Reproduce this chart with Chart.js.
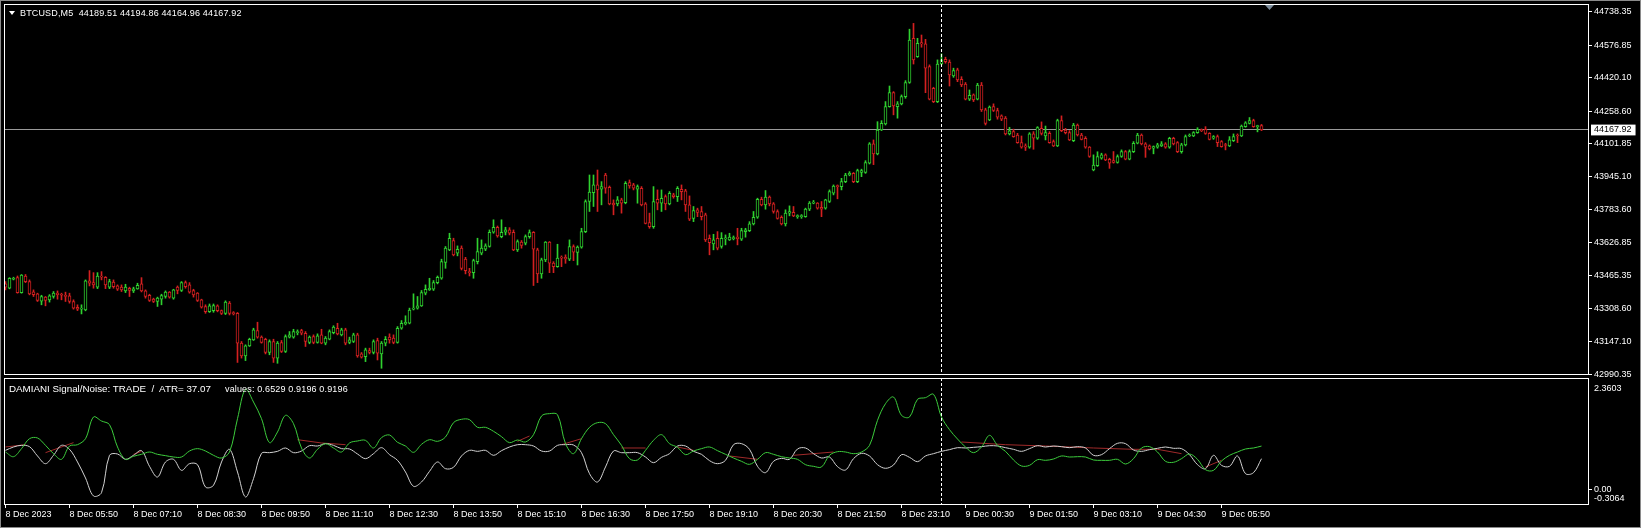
<!DOCTYPE html>
<html>
<head>
<meta charset="utf-8">
<script src="https://cdn.jsdelivr.net/npm/chart.js@4.4.0/dist/chart.umd.min.js"></script>
<style>
html, body { margin: 0; padding: 0; background: #000; }
body { width: 1641px; height: 528px; position: relative; overflow: hidden; font-family: "Liberation Sans", Arial, sans-serif; }
canvas { position: absolute; left: 0; }
#main { top: 0; }
#ind { top: 376px; }
.hdr { position: absolute; color: #fff; font-size: 9px; line-height: 10px; white-space: pre; }
#tri { position: absolute; left: 9px; top: 11px; width: 0; height: 0; border-left: 3px solid transparent; border-right: 3px solid transparent; border-top: 4px solid #fff; }
#win { position: absolute; left: 0; top: 0; width: 1639px; height: 526px; border: 1px solid #8a8a8a; pointer-events: none; }
</style>
</head>
<body>
<canvas id="main" width="1641" height="382"></canvas>
<canvas id="ind" width="1641" height="152"></canvas>
<div id="tri"></div>
<div class="hdr" style="left:20px; top:8px; letter-spacing:0.15px;">BTCUSD,M5  44189.51 44194.86 44164.96 44167.92</div>
<div class="hdr" style="left:9px; top:384px; font-size:9.8px;">DAMIANI Signal/Noise: TRADE  /  ATR= 37.07</div>
<div class="hdr" style="left:225px; top:384px; letter-spacing:0.15px;">values: 0.6529 0.9196 0.9196</div>
<div id="win"></div>
<script>
// BTCUSD M5, 8 Dec 2023 04:30 -> 9 Dec 2023 06:40, one entry per bar
const open = [
  43426,43405,43448,43456,43384,43464,43437,43387,43378,43342,
  43362,43349,43365,43381,43374,43371,43368,43341,43313,43304,
  43300,43440,43432,43410,43464,43458,43410,43434,43416,43410,
  43392,43405,43392,43402,43426,43392,43371,43352,43341,43352,
  43365,43386,43357,43410,43394,43432,43421,43394,43381,43349,
  43317,43292,43297,43320,43297,43284,43333,43288,43284,43140,
  43079,43127,43156,43201,43169,43159,43095,43148,43068,43143,
  43100,43169,43169,43191,43201,43188,43143,43172,43143,43180,
  43140,43159,43191,43212,43180,43204,43143,43148,43180,43088,
  43075,43104,43095,43153,43088,43140,43169,43164,43143,43212,
  43233,43236,43304,43309,43320,43381,43397,43400,43432,43453,
  43529,43590,43635,43574,43598,43545,43485,43480,43533,43574,
  43593,43606,43675,43699,43654,43675,43686,43675,43590,43627,
  43622,43654,43675,43590,43474,43542,43627,43526,43509,43554,
  43554,43545,43606,43577,43603,43678,43823,43866,43903,43882,
  43951,43892,43815,43812,43831,43818,43914,43903,43882,43887,
  43812,43722,43702,43834,43815,43847,43812,43855,43847,43882,
  43875,43807,43742,43783,43775,43759,43646,43619,43646,43606,
  43643,43638,43644,43651,43641,43678,43683,43715,43747,43834,
  43807,43844,43812,43775,43747,43715,43767,43771,43750,43750,
  43750,43786,43815,43815,43795,43791,43823,43863,43898,43895,
  43919,43951,43959,43919,43963,43963,44008,44101,44053,44168,
  44197,44281,44348,44281,44294,44329,44397,44610,44522,44589,
  44583,44474,44369,44305,44486,44509,44495,44429,44458,44412,
  44389,44316,44337,44316,44385,44265,44216,44281,44262,44236,
  44225,44149,44160,44144,44107,44091,44085,44149,44128,44176,
  44139,44152,44112,44091,44213,44168,44155,44117,44192,44144,
  44128,44085,43975,43996,44032,44048,44027,44020,44011,44040,
  44064,44027,44064,44104,44144,44101,44091,44080,44085,44091,
  44101,44085,44128,44107,44064,44096,44139,44139,44155,44168,
  44171,44152,44128,44136,44112,44096,44091,44117,44144,44139,
  44184,44200,44213,44184,44189.51
];
const high = [
  43437,43456,43458,43464,43471,43471,43445,43397,43381,43371,
  43365,43374,43389,43392,43381,43386,43381,43349,43325,43325,
  43445,43490,43480,43480,43485,43461,43448,43445,43421,43421,
  43424,43410,43410,43429,43456,43397,43376,43357,43362,43376,
  43392,43389,43400,43416,43437,43440,43432,43400,43384,43352,
  43325,43329,43329,43325,43300,43344,43341,43292,43288,43148,
  43132,43164,43212,43241,43175,43164,43156,43159,43148,43153,
  43180,43196,43207,43204,43207,43196,43175,43180,43185,43207,
  43172,43204,43224,43236,43212,43212,43169,43188,43188,43095,
  43116,43116,43156,43164,43148,43172,43185,43180,43220,43249,
  43272,43309,43378,43365,43394,43421,43453,43442,43464,43545,
  43606,43670,43646,43609,43609,43554,43501,43545,43646,43638,
  43619,43686,43735,43705,43735,43699,43697,43686,43638,43635,
  43662,43686,43678,43598,43550,43630,43630,43533,43617,43561,
  43566,43638,43614,43609,43694,43831,43951,43951,43975,43919,
  43959,43898,43831,43847,43839,43919,43927,43911,43903,43895,
  43818,43767,43895,43879,43879,43855,43871,43863,43895,43903,
  43882,43850,43799,43791,43799,43767,43662,43665,43678,43673,
  43662,43670,43657,43694,43694,43694,43726,43775,43839,43844,
  43876,43850,43818,43783,43754,43783,43802,43799,43759,43760,
  43791,43823,43828,43818,43823,43834,43879,43903,43903,43935,
  43959,43967,43963,43979,43979,44020,44107,44120,44208,44213,
  44305,44380,44353,44305,44337,44406,44654,44682,44610,44626,
  44605,44482,44374,44506,44535,44519,44506,44466,44466,44425,
  44397,44361,44342,44393,44397,44273,44284,44294,44273,44241,
  44233,44181,44172,44152,44139,44101,44155,44160,44184,44207,
  44187,44160,44120,44220,44236,44176,44165,44200,44197,44152,
  44136,44088,44048,44063,44056,44053,44032,44064,44048,44072,
  44069,44072,44112,44152,44149,44107,44096,44091,44104,44112,
  44107,44133,44133,44112,44104,44144,44149,44160,44179,44173,
  44184,44155,44141,44144,44117,44104,44136,44149,44149,44192,
  44208,44228,44220,44191,44194.86
];
const low = [
  43397,43402,43445,43381,43381,43432,43373,43365,43341,43325,
  43320,43338,43357,43352,43349,43341,43333,43304,43297,43281,
  43296,43416,43405,43403,43445,43403,43403,43405,43394,43389,
  43384,43365,43384,43400,43387,43357,43341,43336,43317,43325,
  43357,43357,43352,43378,43389,43405,43381,43362,43341,43309,
  43284,43288,43289,43291,43278,43278,43276,43276,43047,43068,
  43056,43124,43153,43164,43140,43088,43084,43047,43043,43095,
  43095,43165,43164,43180,43180,43124,43137,43137,43140,43137,
  43132,43156,43185,43180,43175,43132,43137,43143,43072,43068,
  43051,43088,43088,43059,43019,43127,43140,43137,43140,43207,
  43228,43233,43300,43304,43317,43373,43394,43394,43426,43448,
  43501,43586,43561,43561,43493,43474,43464,43453,43522,43566,
  43586,43603,43670,43651,43648,43662,43662,43586,43582,43598,
  43614,43646,43418,43432,43453,43533,43480,43480,43506,43509,
  43525,43538,43538,43517,43598,43673,43775,43799,43775,43807,
  43863,43807,43759,43802,43767,43812,43887,43879,43815,43802,
  43715,43694,43694,43783,43775,43783,43807,43839,43823,43831,
  43775,43731,43726,43750,43734,43630,43566,43590,43590,43598,
  43614,43635,43638,43614,43635,43651,43678,43710,43742,43802,
  43786,43802,43767,43738,43710,43705,43754,43750,43742,43742,
  43747,43779,43812,43786,43750,43786,43818,43855,43836,43879,
  43914,43947,43914,43914,43943,43959,44004,44001,44048,44165,
  44192,44278,44241,44225,44289,44321,44393,44486,44518,44567,
  44348,44313,44300,44300,44482,44490,44380,44422,44401,44377,
  44313,44310,44305,44313,44257,44192,44213,44257,44220,44213,
  44144,44144,44133,44104,44080,44069,44080,44075,44123,44144,
  44120,44104,44088,44088,44160,44149,44117,44112,44139,44120,
  44080,44036,43971,43992,44027,44020,43983,44008,44008,44036,
  44024,44024,44059,44101,44096,44036,44072,44053,44080,44088,
  44080,44080,44096,44059,44056,44091,44136,44136,44152,44160,
  44147,44120,44123,44088,44085,44072,44088,44112,44107,44136,
  44181,44197,44181,44159,44164.96
];
const close = [
  43410,43453,43453,43384,43468,43437,43378,43374,43346,43365,
  43346,43368,43381,43374,43371,43365,43341,43309,43304,43309,
  43440,43429,43421,43464,43458,43421,43437,43413,43400,43397,
  43410,43394,43402,43419,43392,43365,43346,43341,43357,43370,
  43386,43362,43397,43394,43432,43413,43386,43373,43346,43313,
  43292,43320,43321,43297,43284,43338,43284,43281,43140,43079,
  43127,43159,43204,43169,43143,43095,43148,43068,43140,43100,
  43172,43180,43196,43196,43188,43148,43169,43143,43175,43140,
  43164,43196,43217,43185,43204,43140,43156,43180,43079,43072,
  43108,43095,43148,43092,43140,43159,43156,43143,43212,43236,
  43240,43300,43309,43320,43384,43400,43405,43432,43458,43533,
  43598,43646,43566,43593,43501,43490,43480,43538,43582,43598,
  43609,43675,43699,43657,43675,43686,43670,43590,43630,43611,
  43654,43673,43593,43474,43542,43627,43526,43509,43550,43550,
  43546,43606,43579,43603,43678,43823,43868,43903,43879,43895,
  43887,43812,43807,43831,43815,43911,43898,43887,43895,43807,
  43718,43702,43823,43815,43839,43812,43863,43847,43887,43871,
  43807,43738,43779,43770,43750,43638,43625,43638,43598,43646,
  43646,43651,43649,43644,43683,43686,43715,43747,43834,43807,
  43844,43812,43775,43742,43715,43767,43775,43754,43754,43754,
  43786,43815,43818,43791,43786,43831,43871,43898,43895,43919,
  43951,43959,43919,43972,43972,44011,44101,44053,44168,44200,
  44281,44348,44284,44294,44329,44397,44602,44506,44586,44583,
  44466,44316,44305,44486,44506,44498,44433,44454,44409,44385,
  44316,44335,44313,44385,44265,44200,44278,44262,44230,44220,
  44149,44164,44136,44107,44085,44085,44149,44128,44180,44152,
  44155,44107,44091,44213,44165,44155,44120,44192,44144,44123,
  44085,44040,43999,44040,44048,44024,44008,44011,44040,44064,
  44027,44064,44104,44144,44101,44085,44077,44088,44096,44101,
  44085,44128,44101,44064,44096,44136,44144,44155,44171,44165,
  44152,44123,44136,44107,44088,44093,44120,44136,44139,44187,
  44203,44213,44184,44186,44167.92
];

// Damiani volatmeter lines, read every second bar
const volatility = [
  0.794,0.695,0.865,1.076,1.091,0.935,0.759,0.639,0.921,0.949,
  1.076,1.535,1.450,1.373,0.900,0.639,0.703,0.745,0.794,0.745,
  0.717,0.688,0.688,0.815,0.865,0.815,0.724,0.667,0.794,1.500,
  2.121,1.852,1.500,0.992,1.218,1.570,1.394,0.879,0.667,0.851,
  0.971,0.879,0.794,0.985,1.027,1.041,0.879,1.098,1.154,0.999,
  0.921,0.787,0.956,1.055,1.020,1.112,1.415,1.486,1.479,1.316,
  1.316,1.232,1.119,0.992,1.048,1.006,1.161,1.556,1.606,1.584,
  0.971,0.759,1.076,1.316,1.415,1.394,1.161,0.935,0.653,0.625,
  0.829,1.041,1.161,0.971,0.893,0.738,0.815,0.865,0.900,0.822,
  0.745,0.667,0.597,0.533,0.639,0.780,0.745,0.695,0.667,0.639,
  0.526,0.491,0.477,0.724,0.801,0.794,0.759,0.794,0.935,1.464,
  1.817,1.958,1.570,1.535,1.909,1.944,2.015,1.535,1.267,1.069,
  0.900,0.780,0.900,1.147,0.935,0.808,0.625,0.498,0.512,0.632,
  0.618,0.646,0.710,0.688,0.695,0.688,0.625,0.618,0.618,0.639,
  0.540,0.653,0.879,0.907,0.794,0.597,0.576,0.653,0.752,0.639,
  0.420,0.406,0.604,0.724,0.794,0.858,0.879,0.9196
];
const noise = [
  0.829,0.900,0.935,0.907,0.710,0.547,0.724,0.935,0.851,0.583,
  0.244,-0.137,-0.067,0.724,0.752,0.639,0.724,0.822,0.491,0.265,
  0.583,0.639,0.406,0.547,0.526,0.053,0.089,0.583,0.851,0.371,
  -0.158,0.230,0.766,0.780,0.808,0.879,0.780,0.815,0.928,0.921,
  0.971,0.935,0.865,0.858,0.752,0.653,0.759,0.886,0.738,0.618,
  0.371,0.068,0.159,0.385,0.583,0.441,0.470,0.710,0.829,0.808,
  0.829,0.724,0.822,0.900,0.949,0.949,0.921,0.815,0.815,0.935,
  0.949,0.942,0.780,0.336,0.159,0.477,0.815,0.780,0.780,0.780,
  0.688,0.568,0.681,0.759,0.921,0.921,0.808,0.745,0.611,0.547,
  0.618,0.949,0.971,0.851,0.491,0.357,0.597,0.660,0.639,0.858,
  0.879,0.759,0.667,0.688,0.484,0.413,0.653,0.766,0.710,0.526,
  0.449,0.519,0.738,0.681,0.590,0.710,0.759,0.808,0.844,0.886,
  0.879,0.893,0.907,0.928,0.921,0.886,0.851,0.808,0.865,0.928,
  0.900,0.921,0.907,0.886,0.907,0.879,0.724,0.738,0.865,0.978,
  0.971,0.837,0.808,0.844,0.872,0.900,0.872,0.865,0.738,0.526,
  0.441,0.724,0.512,0.491,0.710,0.336,0.357,0.6529
];
// third buffer, only where it shows apart from the other two
const triggerBars = [0,5,6, 10,17,18, 32,34,35, 73,79,85,86, 128,131,132, 139,144,145,
  154,160,161, 168,172,173, 181,188,189, 197,207,208, 239,250,260,272,282,288,294,295, 300,304];
const trigger = [0.900,0.949,null, 0.780,0.992,null, 0.745,0.808,null, 1.055,0.985,0.949,null,
  1.020,1.133,null, 0.949,1.076,null, 0.879,0.879,null, 0.900,0.829,null, 0.710,0.639,null,
  0.724,0.794,null, 1.006,0.949,0.921,0.879,0.851,0.851,0.759,null, 0.477,0.618];

const timeLabels = ['8 Dec 2023','8 Dec 05:50','8 Dec 07:10','8 Dec 08:30','8 Dec 09:50','8 Dec 11:10',
  '8 Dec 12:30','8 Dec 13:50','8 Dec 15:10','8 Dec 16:30','8 Dec 17:50','8 Dec 19:10','8 Dec 20:30',
  '8 Dec 21:50','8 Dec 23:10','9 Dec 00:30','9 Dec 01:50','9 Dec 03:10','9 Dec 04:30','9 Dec 05:50'];
const labelBars = [0,16,32,48,64,80,96,112,128,144,160,176,192,208,224,240,256,272,288,304];
const priceTicks = [44738.35,44576.85,44420.10,44258.60,44101.85,43945.10,43783.60,43626.85,43465.35,43308.60,43147.10,42990.35];
const lastPrice = 44167.92;
const signalTicks = [2.3603, 0, -0.3064];
const signalLabels = [['', '', '2.3603'], '0.00', ['-0.3064', '']];
const dayBreakBar = 234;
const shiftBar = 316;

const BULL = '#2fd12f';
const BEAR = '#d42020';
const FONT = { family: 'Liberation Sans', size: 9 };
const X_MIN = -0.375, X_MAX = 395.625;

const bars = open.map((_, i) => i);
const candleColor = bars.map(i => close[i] >= open[i] ? BULL : BEAR);
const lineBars = volatility.map((_, k) => k * 2);

const panelFrame = {
  id: 'panelFrame',
  afterDraw(chart) {
    const { ctx, chartArea: a } = chart;
    ctx.save();
    ctx.strokeStyle = '#fff';
    ctx.lineWidth = 1;
    ctx.strokeRect(a.left + 0.5, a.top + 0.5, a.right - a.left, a.bottom - a.top);
    ctx.restore();
  }
};

const daySeparator = {
  id: 'daySeparator',
  afterDatasetsDraw(chart) {
    const { ctx, chartArea: a } = chart;
    const x = Math.floor(chart.scales.x.getPixelForValue(dayBreakBar)) + 0.5;
    ctx.save();
    ctx.strokeStyle = '#fff';
    ctx.lineWidth = 1;
    ctx.setLineDash([3, 2]);
    ctx.beginPath();
    ctx.moveTo(x, a.top);
    ctx.lineTo(x, a.bottom);
    ctx.stroke();
    ctx.restore();
  }
};

const shiftMark = {
  id: 'shiftMark',
  afterDraw(chart) {
    const { ctx, chartArea: a } = chart;
    const x = chart.scales.x.getPixelForValue(shiftBar);
    ctx.save();
    ctx.fillStyle = '#7a8a99';
    ctx.beginPath();
    ctx.moveTo(x - 4.5, a.top + 1);
    ctx.lineTo(x + 4.5, a.top + 1);
    ctx.lineTo(x, a.top + 6);
    ctx.closePath();
    ctx.fill();
    ctx.restore();
  }
};

function fitRight(scale) {
  scale.width = 53;
  scale.paddingTop = 0;
  scale.paddingBottom = 0;
}

new Chart(document.getElementById('main'), {
  type: 'bar',
  data: {
    datasets: [
      {
        label: 'body',
        data: bars.map(i => ({ x: i, y: [open[i], close[i]] })),
        backgroundColor: '#000',
        borderColor: candleColor,
        borderWidth: 1,
        borderSkipped: false,
        barThickness: 3,
        minBarLength: 1,
        grouped: false,
        order: 0
      },
      {
        label: 'wick',
        data: bars.map(i => ({ x: i, y: [low[i], high[i]] })),
        backgroundColor: candleColor,
        borderWidth: 0,
        barThickness: 1,
        grouped: false,
        order: 1
      }
    ]
  },
  options: {
    responsive: false,
    animation: false,
    events: [],
    layout: { padding: { left: 4, top: 4, right: 0, bottom: 8 } },
    plugins: { legend: { display: false }, tooltip: { enabled: false } },
    scales: {
      x: { type: 'linear', min: X_MIN, max: X_MAX, offset: false, display: false, grid: { offset: false } },
      y: {
        position: 'right',
        min: 42991.3,
        max: 44775.5,
        border: { display: false },
        afterBuildTicks: s => { s.ticks = priceTicks.concat([lastPrice]).map(v => ({ value: v })); },
        afterFit: fitRight,
        grid: {
          drawOnChartArea: true,
          color: c => (c.tick && c.tick.value === lastPrice) ? '#9a9a9a' : 'rgba(0,0,0,0)',
          tickColor: c => (c.tick && c.tick.value === lastPrice) ? 'rgba(0,0,0,0)' : '#fff',
          tickLength: 4
        },
        ticks: {
          autoSkip: false,
          padding: 2,
          font: FONT,
          color: c => (c.tick && c.tick.value === lastPrice) ? '#000' : '#fff',
          showLabelBackdrop: c => !!(c.tick && c.tick.value === lastPrice),
          backdropColor: '#fff',
          backdropPadding: { top: 0, bottom: 0, left: 3, right: 4 },
          callback: v => v.toFixed(2)
        }
      }
    }
  },
  plugins: [panelFrame, daySeparator, shiftMark]
});

new Chart(document.getElementById('ind'), {
  type: 'line',
  data: {
    datasets: [
      {
        label: 'volatility',
        data: lineBars.map((b, k) => ({ x: b, y: volatility[k] })),
        borderColor: '#3ccc3c',
        borderWidth: 1,
        pointRadius: 0,
        tension: 0.35,
        order: 0
      },
      {
        label: 'noise',
        data: lineBars.map((b, k) => ({ x: b, y: noise[k] })),
        borderColor: '#d2d2d2',
        borderWidth: 1,
        pointRadius: 0,
        tension: 0.35,
        order: 1
      },
      {
        label: 'trigger',
        data: triggerBars.map((b, k) => ({ x: b, y: trigger[k] })),
        borderColor: '#a02a2a',
        borderWidth: 1,
        pointRadius: 0,
        tension: 0,
        spanGaps: false,
        order: 2
      }
    ]
  },
  options: {
    responsive: false,
    animation: false,
    events: [],
    layout: { padding: { left: 4, top: 2, right: 0, bottom: 0 } },
    plugins: { legend: { display: false }, tooltip: { enabled: false } },
    scales: {
      x: {
        type: 'linear',
        min: X_MIN,
        max: X_MAX,
        offset: false,
        border: { display: false },
        afterBuildTicks: s => { s.ticks = labelBars.map(v => ({ value: v })); },
        afterFit: s => { s.height = 24; s.paddingLeft = 0; s.paddingRight = 0; },
        grid: { drawOnChartArea: false, tickLength: 4, tickColor: '#fff', offset: false },
        ticks: {
          autoSkip: false,
          maxRotation: 0,
          align: 'start',
          padding: 1,
          font: FONT,
          color: '#fff',
          callback: (v, i) => timeLabels[i]
        }
      },
      y: {
        position: 'right',
        min: -0.3064,
        max: 2.3603,
        border: { display: false },
        afterBuildTicks: s => { s.ticks = signalTicks.map(v => ({ value: v })); },
        afterFit: fitRight,
        grid: {
          drawOnChartArea: false,
          tickLength: 4,
          tickColor: c => (c.tick && c.tick.value === 0) ? '#fff' : 'rgba(0,0,0,0)'
        },
        ticks: {
          autoSkip: false,
          padding: 2,
          font: FONT,
          color: '#fff',
          callback: (v, i) => signalLabels[i]
        }
      }
    }
  },
  plugins: [panelFrame, daySeparator]
});
</script>
</body>
</html>
